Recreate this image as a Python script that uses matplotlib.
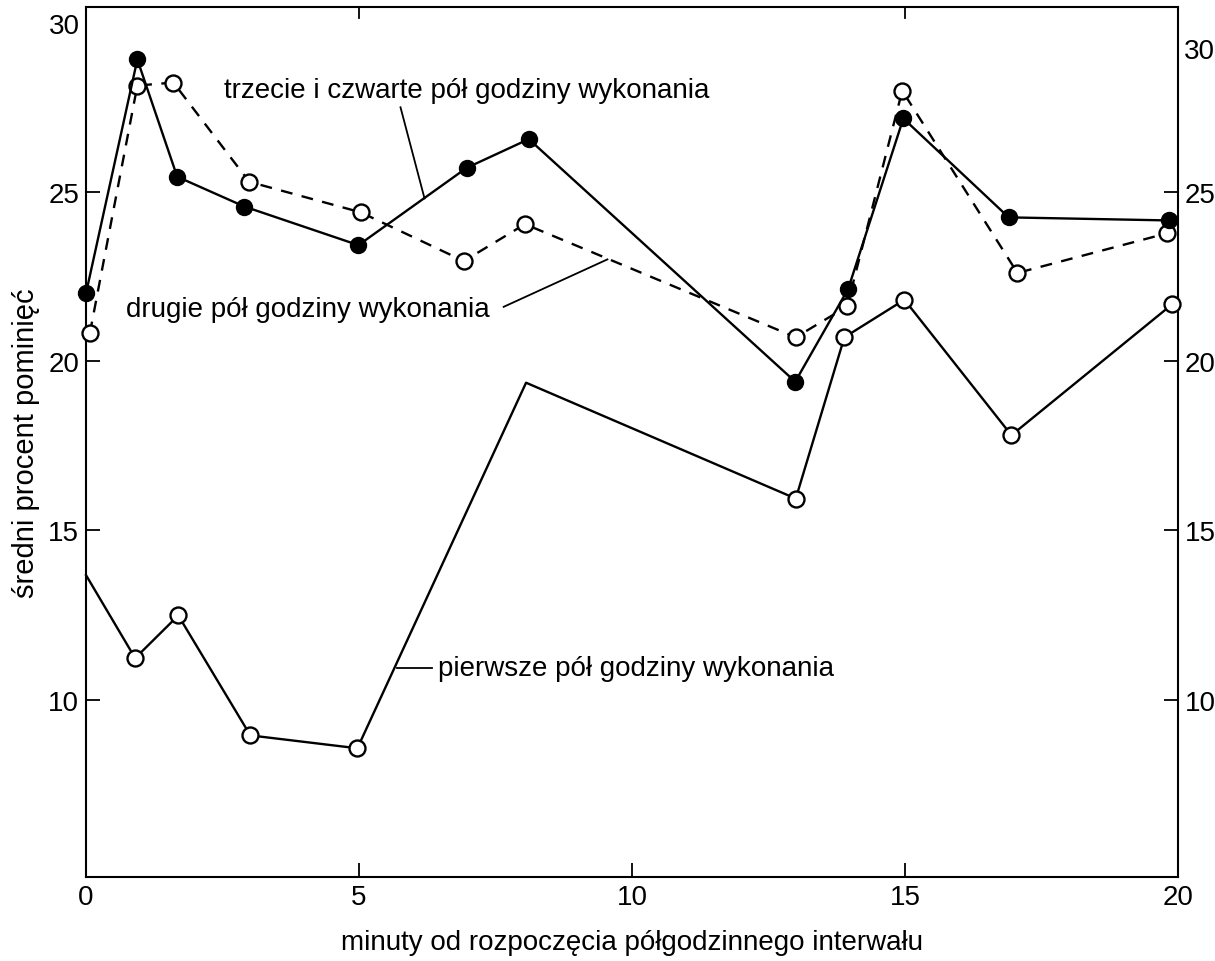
import matplotlib
matplotlib.use("Agg")
import matplotlib.pyplot as plt

plt.rcParams['font.family'] = ['Liberation Sans', 'DejaVu Sans']

# third and fourth half-hour (filled, solid)
x3 = [0.0, 0.94, 1.67, 2.9, 4.99, 6.97, 8.11, 12.99, 13.96, 14.97, 16.9, 19.83]
y3 = [22.0, 28.9, 25.44, 24.56, 23.42, 25.7, 26.55, 19.39, 22.13, 27.16, 24.24, 24.15]

# second half-hour (open, dashed)
x2 = [0.07, 0.94, 1.6, 2.99, 5.03, 6.92, 8.04, 13.0, 13.94, 14.95, 17.06, 19.8]
y2 = [20.82, 28.13, 28.22, 25.29, 24.39, 22.95, 24.04, 20.7, 21.61, 27.98, 22.6, 23.77]

# first half-hour (open, solid); points at 0 and 8 have no marker
x1 = [0.0, 0.9, 1.69, 3.01, 4.97, 8.06, 13.0, 13.89, 14.99, 16.95, 19.89]
y1 = [13.68, 11.23, 12.49, 8.95, 8.57, 19.36, 15.94, 20.7, 21.81, 17.81, 21.67]
marked1 = [1, 2, 3, 4, 6, 7, 8, 9, 10]

xticks = [0, 5, 10, 15, 20]
yticks = [10, 15, 20, 25]
ytop_label = '30'

fig = plt.figure(figsize=(12.15, 9.62), dpi=100)
ax = fig.add_axes([0.0708, 0.0873, 0.8987, 0.9044])

ms = 11.5
lw = 1.7
ax.plot(x1, y1, color='black', lw=lw, marker='o', ms=ms, mfc='white', mec='black',
        mew=1.7, markevery=marked1, zorder=3, clip_on=False)
ax.plot(x2, y2, color='black', lw=lw, ls=(0, (5, 4)), marker='o', ms=ms, mfc='white',
        mec='black', mew=1.7, zorder=4, clip_on=False)
ax.plot(x3, y3, color='black', lw=lw, marker='o', ms=ms, mfc='black', mec='black',
        zorder=5, clip_on=False)

ax.set_xlim(0, 20)
ax.set_ylim(4.77, 30.45)

ax.set_xticks(xticks)
ax.set_yticks(yticks)
ax.tick_params(axis='both', direction='in', length=10, width=1.3, labelsize=20)
ax.tick_params(axis='x', top=False, pad=5)
ax.tick_params(axis='y', right=True, labelright=True, pad=5)

# "30" labels without tick marks (the right one sits a little lower in the original)
ax.annotate(ytop_label, xy=(0.0, 29.88), xycoords=('axes fraction', 'data'),
            xytext=(-4.5, 0), textcoords='offset points', fontsize=20,
            ha='right', va='center')
ax.annotate(ytop_label, xy=(1.0, 29.15), xycoords=('axes fraction', 'data'),
            xytext=(4.5, 0), textcoords='offset points', fontsize=20,
            ha='left', va='center')

# top-spine ticks at 5 and 15
for xv in (5, 15):
    ax.plot([xv, xv], [30.45, 30.45 - 0.33], color='black', lw=1.3, clip_on=False)

for s in ax.spines.values():
    s.set_linewidth(1.5)

ax.set_xlabel('minuty od rozpoczęcia półgodzinnego interwału', fontsize=20, labelpad=14)
ax.set_ylabel('średni procent pominięć', fontsize=21, labelpad=6)

fs = 20
ax.text(2.52, 28.0, 'trzecie i czwarte pół godziny wykonania', fontsize=fs, va='center', ha='left')
ax.plot([5.76, 6.2], [27.49, 24.8], color='black', lw=1.3)

ax.text(0.73, 21.55, 'drugie pół godziny wykonania', fontsize=fs, va='center', ha='left')
ax.plot([7.65, 9.55], [21.6, 23.0], color='black', lw=1.3)

ax.text(6.45, 10.95, 'pierwsze pół godziny wykonania', fontsize=fs, va='center', ha='left')
ax.plot([5.69, 6.33], [10.95, 10.95], color='black', lw=1.3)

fig.savefig('out.png', dpi=100)
